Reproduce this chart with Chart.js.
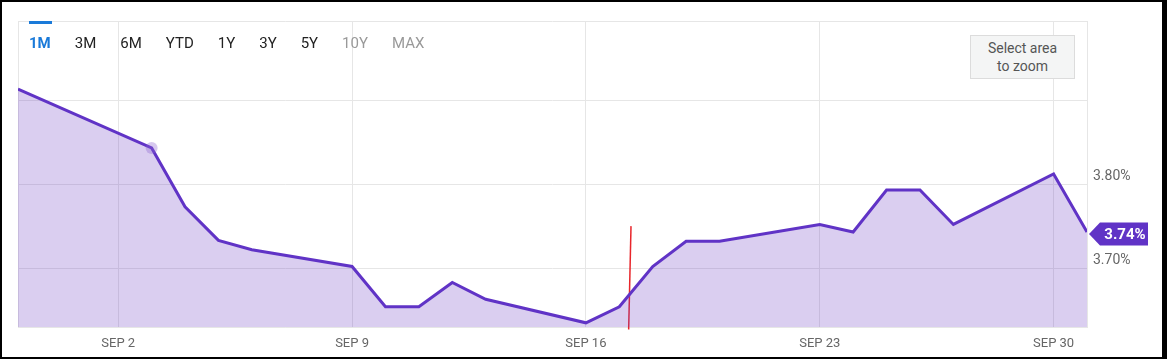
<!DOCTYPE html>
<html>
<head>
<meta charset="utf-8">
<script src="https://cdn.jsdelivr.net/npm/chart.js@4/dist/chart.umd.min.js"></script>
<style>
  body { margin: 0; background: #000; font-family: Roboto, sans-serif; }
  .marco { position: absolute; left: 2px; top: 2px; width: 1160px; height: 355px; background: #fff; }
  canvas { position: absolute; left: 0; top: 0; }
  .rangos { position: absolute; left: 27px; top: 32px; display: flex; gap: 24px; font-size: 15px; color: #222; }
  .rangos span.activo { color: #1a7ad9; font-weight: bold; }
  .rangos span.off { color: #999; }
  .barra { position: absolute; left: 27px; top: 19px; width: 23px; height: 3px; background: #1a7ad9; }
  .zoomBtn { position: absolute; left: 968px; top: 33px; width: 103px; height: 42px; background: #f4f5f5;
    border: 1px solid #dcdcdc; color: #555; font-size: 14px; text-align: center; line-height: 18px;
    display: flex; align-items: center; justify-content: center; }
</style>
</head>
<body>
<div class="marco">
  <canvas id="grafica" width="1160" height="355"></canvas>
  <div class="barra"></div>
  <div class="rangos" id="rangos"></div>
  <div class="zoomBtn">Select area<br>to zoom</div>
</div>
<script>
// ---------- Datos ----------
const fechas = ['AUG 30', 'SEP 3', 'SEP 4', 'SEP 5', 'SEP 6', 'SEP 9', 'SEP 10', 'SEP 11', 'SEP 12', 'SEP 13',
  'SEP 16', 'SEP 17', 'SEP 18', 'SEP 19', 'SEP 20', 'SEP 23', 'SEP 24', 'SEP 25', 'SEP 26', 'SEP 27', 'SEP 30', 'OCT 1'];
// dias desde AUG 30
const dias = [0, 4, 5, 6, 7, 10, 11, 12, 13, 14, 17, 18, 19, 20, 21, 24, 25, 26, 27, 28, 31, 32];
const rendimientos = [3.913, 3.843, 3.773, 3.733, 3.722, 3.702, 3.654, 3.654, 3.683, 3.663,
  3.635, 3.654, 3.702, 3.732, 3.732, 3.752, 3.743, 3.793, 3.793, 3.752, 3.812, 3.743];

const diasTicks = [3, 10, 17, 24, 31];
const etiquetasX = ['SEP 2', 'SEP 9', 'SEP 16', 'SEP 23', 'SEP 30'];
const valoresY = [3.7, 3.8, 3.9];
const valoresConEtiqueta = [3.7, 3.8];
const marcaRoja = [{ x: 18.35, y: 3.75 }, { x: 18.28, y: 3.627 }];
const indiceHover = 1;

const rangos = ['1M', '3M', '6M', 'YTD', '1Y', '3Y', '5Y', '10Y', 'MAX'];

const yMin = 3.63;
const yMax = 3.994;
const colorLinea = '#6033c6';

// ---------- Botones ----------
document.getElementById('rangos').innerHTML = rangos.map((r, i) => {
  const cls = i === 0 ? 'activo' : (i >= 7 ? 'off' : '');
  return `<span class="${cls}">${r}</span>`;
}).join('');

// ---------- Etiqueta del ultimo valor ----------
const etiquetaFinal = {
  id: 'etiquetaFinal',
  afterDatasetsDraw(chart) {
    const meta = chart.getDatasetMeta(0);
    const pt = meta.data[meta.data.length - 1];
    const ctx = chart.ctx;
    const x = pt.x + 2, y = pt.y + 2;
    const w = 59, h = 23, flecha = 11;
    ctx.save();
    ctx.fillStyle = colorLinea;
    ctx.beginPath();
    ctx.moveTo(x, y);
    ctx.lineTo(x + flecha, y - h / 2);
    ctx.lineTo(x + w, y - h / 2);
    ctx.lineTo(x + w, y + h / 2);
    ctx.lineTo(x + flecha, y + h / 2);
    ctx.closePath();
    ctx.fill();
    ctx.fillStyle = '#fff';
    ctx.font = 'bold 15px Roboto';
    ctx.textAlign = 'center';
    ctx.textBaseline = 'middle';
    ctx.fillText(rendimientos[rendimientos.length - 1].toFixed(2) + '%', x + flecha + (w - flecha) / 2 + 1, y + 1);
    ctx.restore();
  }
};

// ---------- Grafica ----------
const ctx = document.getElementById('grafica').getContext('2d');

new Chart(ctx, {
  type: 'line',
  data: {
    datasets: [{
      data: dias.map((d, i) => ({ x: d, y: rendimientos[i] })),
      borderColor: colorLinea,
      borderWidth: 3,
      backgroundColor: 'rgba(106, 61, 196, 0.25)',
      fill: 'start',
      tension: 0,
      pointRadius: c => c.dataIndex === indiceHover ? 6 : 0,
      pointBackgroundColor: 'rgba(140, 100, 210, 0.35)',
      pointBorderWidth: 0
    }, {
      data: marcaRoja,
      borderColor: '#e8262b',
      borderWidth: 1.5,
      pointRadius: 0,
      fill: false,
      clip: false
    }]
  },
  options: {
    responsive: false,
    animation: false,
    layout: { padding: { left: 16, top: 19, right: 0, bottom: 0 } },
    scales: {
      x: {
        type: 'linear',
        min: 0,
        max: 32,
        afterBuildTicks: s => { s.ticks = [0, ...diasTicks, 32].map(v => ({ value: v })); },
        afterFit: s => { s.height = 30; },
        ticks: {
          autoSkip: false,
          maxRotation: 0,
          padding: 9,
          color: '#666',
          font: { family: 'Roboto', size: 13 },
          callback: v => {
            const i = diasTicks.indexOf(v);
            return i >= 0 ? etiquetasX[i] : '';
          }
        },
        grid: { color: '#e6e6e6', drawTicks: false },
        border: { color: '#e6e6e6' }
      },
      y: {
        position: 'right',
        min: yMin,
        max: yMax,
        afterBuildTicks: s => { s.ticks = [yMin, ...valoresY, yMax].map(v => ({ value: v })); },
        afterFit: s => { s.width = 75; },
        ticks: {
          padding: 6,
          labelOffset: -8,
          color: '#666',
          font: { family: 'Roboto', size: 14 },
          callback: v => valoresConEtiqueta.some(e => Math.abs(v - e) < 1e-6) ? v.toFixed(2) + '%' : ''
        },
        grid: { color: '#e6e6e6', drawTicks: false },
        border: { color: '#e6e6e6' }
      }
    },
    plugins: {
      legend: { display: false },
      tooltip: { enabled: false }
    }
  },
  plugins: [etiquetaFinal]
});
</script>
</body>
</html>
